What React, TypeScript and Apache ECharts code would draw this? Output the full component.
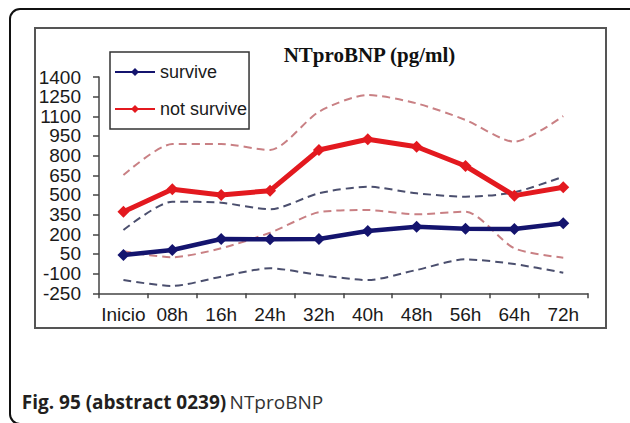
import React, { useEffect, useRef } from "react";
import * as echarts from "echarts";

const categories = ["Inicio", "08h", "16h", "24h", "32h", "40h", "48h", "56h", "64h", "72h"];
const surviveMean = [42, 80, 164, 162, 164, 225, 258, 243, 240, 284];
const surviveUpper = [233, 449, 441, 391, 513, 563, 513, 487, 520, 640];
const surviveLower = [-149, -194, -123, -59, -110, -149, -72, 9, -27, -93];
const notSurviveMean = [372, 543, 500, 533, 843, 925, 868, 721, 495, 559];
const notSurviveUpper = [652, 889, 889, 843, 1135, 1263, 1199, 1072, 906, 1102];
const notSurviveLower = [70, 25, 93, 212, 368, 385, 353, 372, 93, 22];
const yMin = -250;
const yMax = 1400;
const yStep = 150;
const titleText = "NTproBNP (pg/ml)";
const captionBold = "Fig. 95 (abstract 0239)";
const captionRest = "NTproBNP";

const BLUE = "#14146e";
const RED = "#e3191f";
const BLUE_DASH = "#4b4f6e";
const RED_DASH = "#c98084";

export default function App() {
  const ref = useRef<HTMLDivElement>(null);
  useEffect(() => {
    document.body.style.margin = "0";
    if (!ref.current) return;
    const chart = echarts.init(ref.current, null, { renderer: "svg" });
    const dashed = (name: string, data: number[], color: string) => ({
      name,
      type: "line",
      data,
      smooth: 0.25,
      symbol: "none",
      z: 1,
      lineStyle: { color, width: 2, type: [8, 5] },
      itemStyle: { color },
    });
    chart.setOption({
      animation: false,
      backgroundColor: "#ffffff",
      title: {
        text: titleText,
        left: 364.5,
        top: 39,
        textAlign: "center",
        textStyle: {
          fontFamily: "Liberation Serif",
          fontWeight: "bold",
          fontSize: 21,
          color: "#111",
        },
      },
      legend: {
        data: ["survive", "not survive"],
        orient: "vertical",
        left: 110,
        top: 52,
        padding: [11, 2, 11, 4],
        itemWidth: 40,
        itemHeight: 10,
        itemGap: 19,
        borderColor: "#333",
        borderWidth: 1.5,
        textStyle: {
          fontFamily: "Liberation Sans",
          fontSize: 18,
          lineHeight: 18,
          color: "#1a1a1a",
        },
      },
      grid: { left: 99, right: 42.3, top: 77, bottom: 129.7 },
      xAxis: {
        type: "category",
        data: categories,
        boundaryGap: true,
        axisLine: { onZero: false, lineStyle: { color: "#444", width: 1.5 } },
        axisTick: { show: true, length: 5, interval: 0, lineStyle: { color: "#444", width: 1.5 } },
        axisLabel: {
          interval: 0,
          margin: 12,
          fontFamily: "Liberation Sans",
          fontSize: 19,
          color: "#1a1a1a",
        },
        splitLine: { show: false },
      },
      yAxis: {
        type: "value",
        min: yMin,
        max: yMax,
        interval: yStep,
        axisLine: { show: true, lineStyle: { color: "#444", width: 1.5 } },
        axisTick: { show: true, length: 6, lineStyle: { color: "#444", width: 1.5 } },
        axisLabel: {
          margin: 18,
          fontFamily: "Liberation Sans",
          fontSize: 19,
          color: "#1a1a1a",
          formatter: (v: number) => String(v),
        },
        splitLine: { show: false },
      },
      series: [
        dashed("survive upper", surviveUpper, BLUE_DASH),
        dashed("survive lower", surviveLower, BLUE_DASH),
        dashed("not survive upper", notSurviveUpper, RED_DASH),
        dashed("not survive lower", notSurviveLower, RED_DASH),
        {
          name: "survive",
          type: "line",
          data: surviveMean,
          symbol: "diamond",
          symbolSize: 12,
          z: 3,
          lineStyle: { color: BLUE, width: 4.5 },
          itemStyle: { color: BLUE },
        },
        {
          name: "not survive",
          type: "line",
          data: notSurviveMean,
          symbol: "diamond",
          symbolSize: 12,
          z: 3,
          lineStyle: { color: RED, width: 5 },
          itemStyle: { color: RED },
        },
      ],
      graphic: [
        {
          type: "rect",
          z: -10,
          silent: true,
          shape: { x: 10, y: 9, width: 640, height: 415, r: 10 },
          style: { fill: "none", stroke: "#111", lineWidth: 2 },
        },
        {
          type: "rect",
          z: -10,
          silent: true,
          shape: { x: 35, y: 28, width: 571, height: 300 },
          style: { fill: "none", stroke: "#555", lineWidth: 2 },
        },
        {
          type: "text",
          x: 21.7,
          y: 401.7,
          silent: true,
          style: {
            text: `{b|${captionBold}} {n|${captionRest}}`,
            verticalAlign: "middle",
            rich: {
              b: { fontFamily: "Open Sans", fontWeight: "bold", fontSize: 19, fill: "#231f20" },
              n: { fontFamily: "Open Sans", fontSize: 19, fill: "#333" },
            },
          },
        },
      ],
    });
    return () => chart.dispose();
  }, []);
  return <div ref={ref} style={{ width: 630, height: 423, position: "absolute", left: 0, top: 0 }} />;
}
